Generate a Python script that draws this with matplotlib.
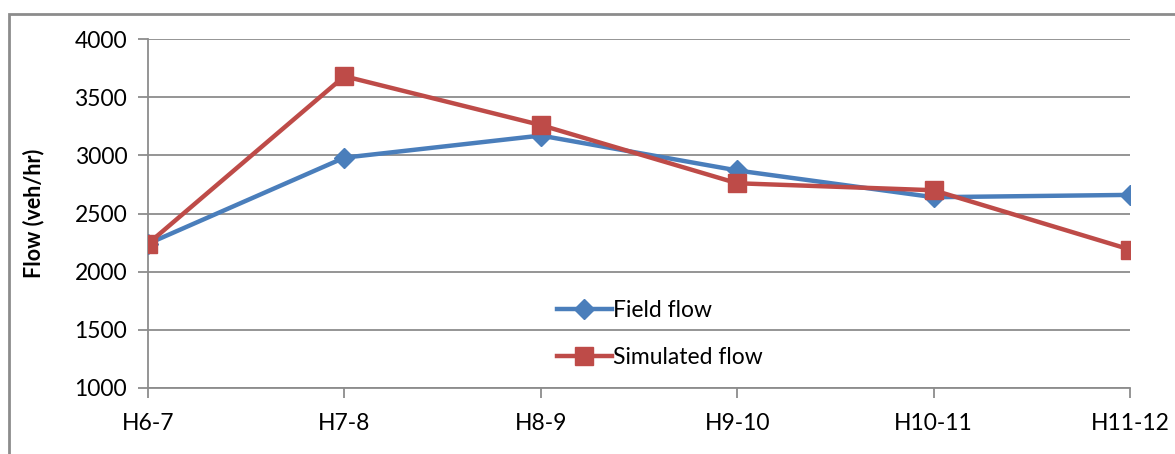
import matplotlib.pyplot as plt
from matplotlib.patches import Rectangle

plt.rcParams['font.family'] = ['Lato', 'DejaVu Sans']

hours = ["H6-7", "H7-8", "H8-9", "H9-10", "H10-11", "H11-12"]
field_flow = [2240, 2980, 3170, 2870, 2640, 2660]
simulated_flow = [2240, 3680, 3260, 2760, 2700, 2190]

fig = plt.figure(figsize=(11.75, 4.54), dpi=100)
W, H = 1175, 454
ax = fig.add_axes([148 / W, 1 - 388 / H, (1130 - 148) / W, (388 - 39) / H])

# outer chart border (cropped on the right and bottom)
fig.patches.append(Rectangle((9 / W, -0.1), 1.2, 1 - 14 / H + 0.1,
                             transform=fig.transFigure, fill=False,
                             edgecolor="#8c8c8c", linewidth=2))

x = range(len(hours))
ax.plot(x, field_flow, color="#4a7ebb", linewidth=3.2, marker="D",
        markersize=10, label="Field flow", zorder=3)
ax.plot(x, simulated_flow, color="#be4b48", linewidth=3.2, marker="s",
        markersize=13, label="Simulated flow", zorder=4)

ax.set_xlim(0, len(hours) - 1)
ax.set_ylim(1000, 4000)
ax.set_yticks(range(1000, 4001, 500))
ax.set_xticks(list(x))
ax.set_xticklabels(hours)
ax.grid(axis="y", color="#8c8c8c", linewidth=1.3)
ax.set_axisbelow(True)

for s in ["top", "right"]:
    ax.spines[s].set_visible(False)
for s in ["left", "bottom"]:
    ax.spines[s].set_color("#8c8c8c")
    ax.spines[s].set_linewidth(1.3)

ax.tick_params(axis="both", colors="#8c8c8c", length=7, width=1.3,
               labelcolor="black", labelsize=16.5)
ax.tick_params(axis="x", pad=11)
ax.tick_params(axis="y", pad=8)

ax.set_ylabel("Flow (veh/hr)", fontsize=15.5, fontweight="bold", labelpad=22)

ax.legend(loc="upper left", bbox_to_anchor=(0.395, 0.31), frameon=False,
          fontsize=16.5, handlelength=2.4, handletextpad=0.05,
          labelspacing=1.1)

fig.savefig("out.png", dpi=100)
